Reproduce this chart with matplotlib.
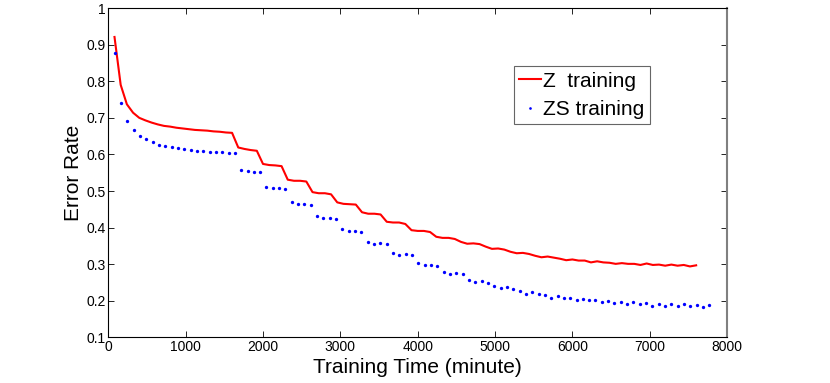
import numpy as np
import matplotlib
matplotlib.use("Agg")
import matplotlib.pyplot as plt

plt.rcParams['font.family'] = ['Liberation Sans', 'DejaVu Sans']

# one value per epoch; Z epochs take ~80 min, ZS epochs ~81.8 min
epochs = np.arange(1, 96)
z_min_per_epoch = 80.0
zs_min_per_epoch = 81.8

z_err = [0.921, 0.790, 0.737, 0.714, 0.700, 0.693, 0.687, 0.682, 0.678, 0.676,
         0.673, 0.671, 0.669, 0.667, 0.666, 0.665, 0.663, 0.662, 0.660, 0.659,
         0.619, 0.615, 0.612, 0.610, 0.574, 0.571, 0.570, 0.568, 0.531, 0.528,
         0.528, 0.526, 0.497, 0.494, 0.494, 0.491, 0.469, 0.465, 0.464, 0.463,
         0.442, 0.438, 0.438, 0.436, 0.416, 0.414, 0.414, 0.410, 0.393, 0.391,
         0.391, 0.388, 0.375, 0.372, 0.372, 0.369, 0.361, 0.356, 0.357, 0.355,
         0.348, 0.342, 0.343, 0.340, 0.334, 0.330, 0.331, 0.328, 0.323, 0.319,
         0.321, 0.318, 0.315, 0.311, 0.313, 0.310, 0.310, 0.305, 0.308, 0.305,
         0.304, 0.301, 0.303, 0.301, 0.301, 0.298, 0.302, 0.298, 0.299, 0.296,
         0.299, 0.296, 0.298, 0.294, 0.297]

zs_err = [0.876, 0.741, 0.691, 0.667, 0.651, 0.641, 0.634, 0.625, 0.622, 0.620,
          0.617, 0.614, 0.611, 0.610, 0.609, 0.608, 0.607, 0.606, 0.605, 0.604,
          0.558, 0.555, 0.553, 0.552, 0.512, 0.508, 0.507, 0.505, 0.470, 0.465,
          0.465, 0.463, 0.431, 0.426, 0.426, 0.424, 0.395, 0.390, 0.390, 0.389,
          0.362, 0.356, 0.358, 0.355, 0.331, 0.325, 0.328, 0.324, 0.304, 0.298,
          0.299, 0.296, 0.280, 0.273, 0.276, 0.272, 0.258, 0.252, 0.255, 0.250,
          0.241, 0.234, 0.238, 0.233, 0.227, 0.220, 0.225, 0.219, 0.216, 0.209,
          0.214, 0.208, 0.207, 0.202, 0.206, 0.201, 0.201, 0.196, 0.199, 0.195,
          0.197, 0.191, 0.196, 0.190, 0.193, 0.187, 0.192, 0.187, 0.192, 0.185,
          0.190, 0.185, 0.188, 0.183, 0.188]

z_time = epochs * z_min_per_epoch
zs_time = epochs * zs_min_per_epoch

fig = plt.figure(figsize=(8.3, 3.83), dpi=100)
ax = fig.add_axes([0.1305, 0.119, 0.7455, 0.86])

ax.plot(z_time, z_err, color='#ff0000', lw=1.5, label='Z  training')
ax.plot(zs_time, zs_err, 'o', color='#0000ff', ms=2.4, mew=0, label='ZS training')

ax.set_xlim(0, 8000)
ax.set_ylim(0.1, 1)
ax.set_xticks(np.arange(0, 8001, 1000))
ax.set_yticks(np.arange(0.1, 1.01, 0.1))
ax.set_yticklabels(['0.1', '0.2', '0.3', '0.4', '0.5', '0.6', '0.7', '0.8', '0.9', '1'])
ax.tick_params(direction='in', top=True, right=True, length=4, width=0.6,
               labelsize=10, pad=2)
for s in ax.spines.values():
    s.set_linewidth(0.8)
ax.spines['right'].set_color('#808080')
ax.spines['right'].set_linewidth(1.5)

ax.set_xlabel('Training Time (minute)', fontsize=15, labelpad=3)
ax.set_ylabel('Error Rate', fontsize=15, labelpad=2)

leg = ax.legend(loc='upper left', bbox_to_anchor=(0.656, 0.823), fontsize=15,
                frameon=True, fancybox=False, handlelength=1.05, handletextpad=0.1,
                borderpad=0.25, labelspacing=0.45, borderaxespad=0, markerscale=0.8)
leg.get_frame().set_edgecolor('#404040')
leg.get_frame().set_linewidth(0.8)

fig.savefig('out.png', dpi=100)
